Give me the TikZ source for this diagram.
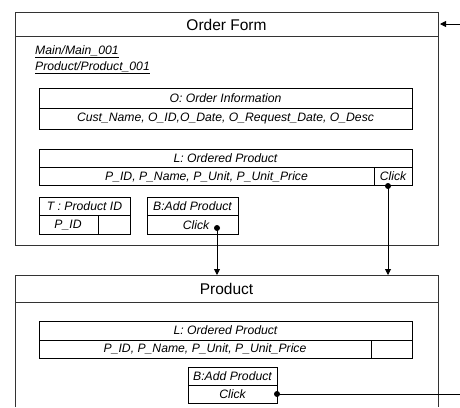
\documentclass[tikz,border=0pt]{standalone}
\usepackage{fontspec}
\setmainfont{Liberation Sans}
\usetikzlibrary{arrows.meta}
\tikzset{
  frame/.style={draw=black!80, line width=1pt},
  cell/.style={draw=black, line width=0.9pt},
  ttl/.style={font=\fontsize{15.5}{17}\selectfont, inner sep=0pt},
  itx/.style={font=\fontsize{12.2}{14}\selectfont\itshape, inner sep=0pt},
  conn/.style={line width=0.9pt, -{Triangle[length=6pt,width=6pt]}},
  dotc/.style={circle, fill=black, inner sep=0pt, minimum size=6pt},
}
\begin{document}
\begin{tikzpicture}[x=1pt,y=-1pt]
\useasboundingbox (0,0) rectangle (460,407);
% Order Form frame
\draw[frame] (15,12) rectangle (438,245);
\draw[frame] (15,36) -- (438,36);
\node[ttl] (oftitle) at (226.5,25) {Order Form};
\node[itx, anchor=west] (m1) at (35,52) {\underline{Main/Main\_001}};
\node[itx, anchor=west] (m2) at (35,68) {\underline{Product/Product\_001}};
% O box
\draw[cell] (39,88) rectangle (412,129);
\draw[cell] (39,108) -- (412,108);
\node[itx] (oh) at (225.5,98.5) {O: Order Information};
\node[itx] (ob) at (225.5,119) {Cust\_Name, O\_ID,O\_Date, O\_Request\_Date, O\_Desc};
% L box
\draw[cell] (39,149) rectangle (412,185);
\draw[cell] (39,167) -- (412,167);
\draw[cell] (374,167) -- (374,185);
\node[itx] (lh) at (225.5,158.5) {L: Ordered Product};
\node[itx] (lb) at (206.5,176.5) {P\_ID, P\_Name, P\_Unit, P\_Unit\_Price};
\node[itx] (lclick) at (393,176.5) {Click};
% T box
\draw[cell] (39,197) rectangle (130,234);
\draw[cell] (39,215) -- (130,215);
\draw[cell] (98,215) -- (98,234);
\node[itx] (th) at (84.5,206.5) {T : Product ID};
\node[itx] (tb) at (68,225) {P\_ID};
% B box
\draw[cell] (147,197) rectangle (238,234);
\draw[cell] (147,215) -- (238,215);
\node[itx] (bh) at (192.5,206.5) {B:Add Product};
\node[itx] (bb) at (196,225) {Click};
% Product frame
\draw[frame] (15,407) -- (15,275) -- (438,275) -- (438,407);
\draw[frame] (15,302) -- (438,302);
\node[ttl] (ptitle) at (226.5,289) {Product};
% L box in Product
\draw[cell] (39,321) rectangle (412,358);
\draw[cell] (39,340) -- (412,340);
\draw[cell] (371,340) -- (371,358);
\node[itx] (plh) at (225.5,330.5) {L: Ordered Product};
\node[itx] (plb) at (205,349) {P\_ID, P\_Name, P\_Unit, P\_Unit\_Price};
% B box in Product
\draw[cell] (188,367) rectangle (277,403);
\draw[cell] (188,385) -- (277,385);
\node[itx] (pbh) at (232.5,376) {B:Add Product};
\node[itx] (pbb) at (232.5,394) {Click};
% connectors
\node[dotc] (d1) at (217,228) {};
\node[dotc] (d2) at (388,186) {};
\node[dotc] (d3) at (277,394) {};
\coordinate (t1) at (217,275);
\coordinate (t2) at (388,275);
\coordinate (s3) at (460,394);
\coordinate (s0) at (460,24);
\coordinate (t0) at (440,24);
\draw[conn] (d1.center) -- (t1);
\draw[conn] (d2.center) -- (t2);
\draw[line width=0.9pt] (d3.center) -- (s3);
\draw[conn] (s0) -- (t0);
\end{tikzpicture}
\end{document}
